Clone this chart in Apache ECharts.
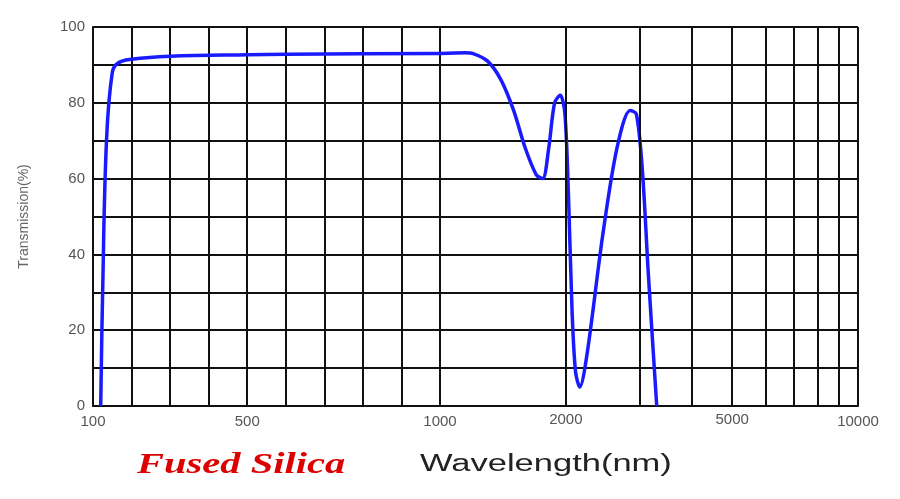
<!DOCTYPE html><html><head><meta charset="utf-8"><script src="https://cdn.jsdelivr.net/npm/echarts@6/dist/echarts.min.js"></script></head><body style="margin:0"><div id="c" style="width:900px;height:499px"></div><script>
const uvWave=[120,125,135,150,165,200,300,500,700,1000];
const uvT=[0,30,70,88,90.5,91.5,92.3,92.7,92.9,93];
const irWave=[1000,1150,1200,1300,1400,1500,1600,1700,1760,1820,1880,1940,1990,2030,2070,2110,2160,2250,2450,2650,2850,2950,3050,3150,3300];
const irT=[93,93.2,93,91,86,78,68,61,60,68,80,82,77,55,25,9,5,14,45,68,78,77,62,35,0];
const logLines=[2000,3000,4000,5000,6000,7000,8000,9000];
const logLabels=[2000,5000];
const yTicks=[0,20,40,60,80,100];
const ch=echarts.init(document.getElementById('c'));
const gl={show:true,lineStyle:{color:'#111',width:2}};
const lab={color:'#555',fontFamily:'Liberation Sans',fontSize:15};
ch.setOption({animation:false,
grid:[{left:93,width:347,top:27,bottom:93},{left:440,right:42,top:27,bottom:93}],
xAxis:[{type:'value',gridIndex:0,min:100,max:1000,interval:100,splitLine:gl,axisLine:{lineStyle:{color:'#111',width:2}},axisTick:{show:false},
 axisLabel:Object.assign({},lab,{showMaxLabel:true,formatter:v=>(v===100||v===500||v===1000)?v:''})},
 {type:'log',gridIndex:1,min:1000,max:10000,logBase:10,splitLine:gl,axisLine:{lineStyle:{color:'#111',width:2}},axisTick:{show:false},
 axisLabel:Object.assign({},lab,{formatter:v=>v===10000?'10000':''})}],
yAxis:[{type:'value',gridIndex:0,min:0,max:100,interval:10,splitLine:gl,axisLine:{show:true,lineStyle:{color:'#111',width:2}},axisTick:{show:false},
 axisLabel:Object.assign({},lab,{formatter:v=>yTicks.includes(v)?v:''}),
 name:'Transmission(%)',nameLocation:'middle',nameGap:62,nameRotate:90,nameTextStyle:{color:'#666',fontSize:14,fontFamily:'Liberation Sans'}},
 {type:'value',gridIndex:1,min:0,max:100,interval:10,splitLine:gl,axisLine:{show:true,lineStyle:{color:'#111',width:2}},axisTick:{show:false},axisLabel:{show:false}}],
series:[
 {type:'line',xAxisIndex:0,yAxisIndex:0,smooth:0.4,showSymbol:false,data:uvWave.map((w,i)=>[w,uvT[i]]),lineStyle:{color:'#1a1aff',width:3.5}},
 {type:'line',xAxisIndex:1,yAxisIndex:1,smooth:0.3,showSymbol:false,data:irWave.map((w,i)=>[w,irT[i]]),lineStyle:{color:'#1a1aff',width:3.5},
  markLine:{symbol:'none',silent:true,lineStyle:{color:'#111',width:2,type:'solid'},
   label:{position:'start',distance:6,color:'#555',fontFamily:'Liberation Sans',fontSize:15,formatter:p=>logLabels.includes(p.value)?String(p.value):''},
   data:logLines.map(v=>({xAxis:v}))}}
],
graphic:[
 {type:'text',x:137,y:450,scaleX:1.35,style:{text:'Fused Silica',fill:'#d00',font:'italic bold 30px "Liberation Serif"'}},
 {type:'text',x:420,y:453,scaleX:1.5,style:{text:'Wavelength(nm)',fill:'#222',font:'23px "Liberation Sans"'}}
]});
</script></body></html>
